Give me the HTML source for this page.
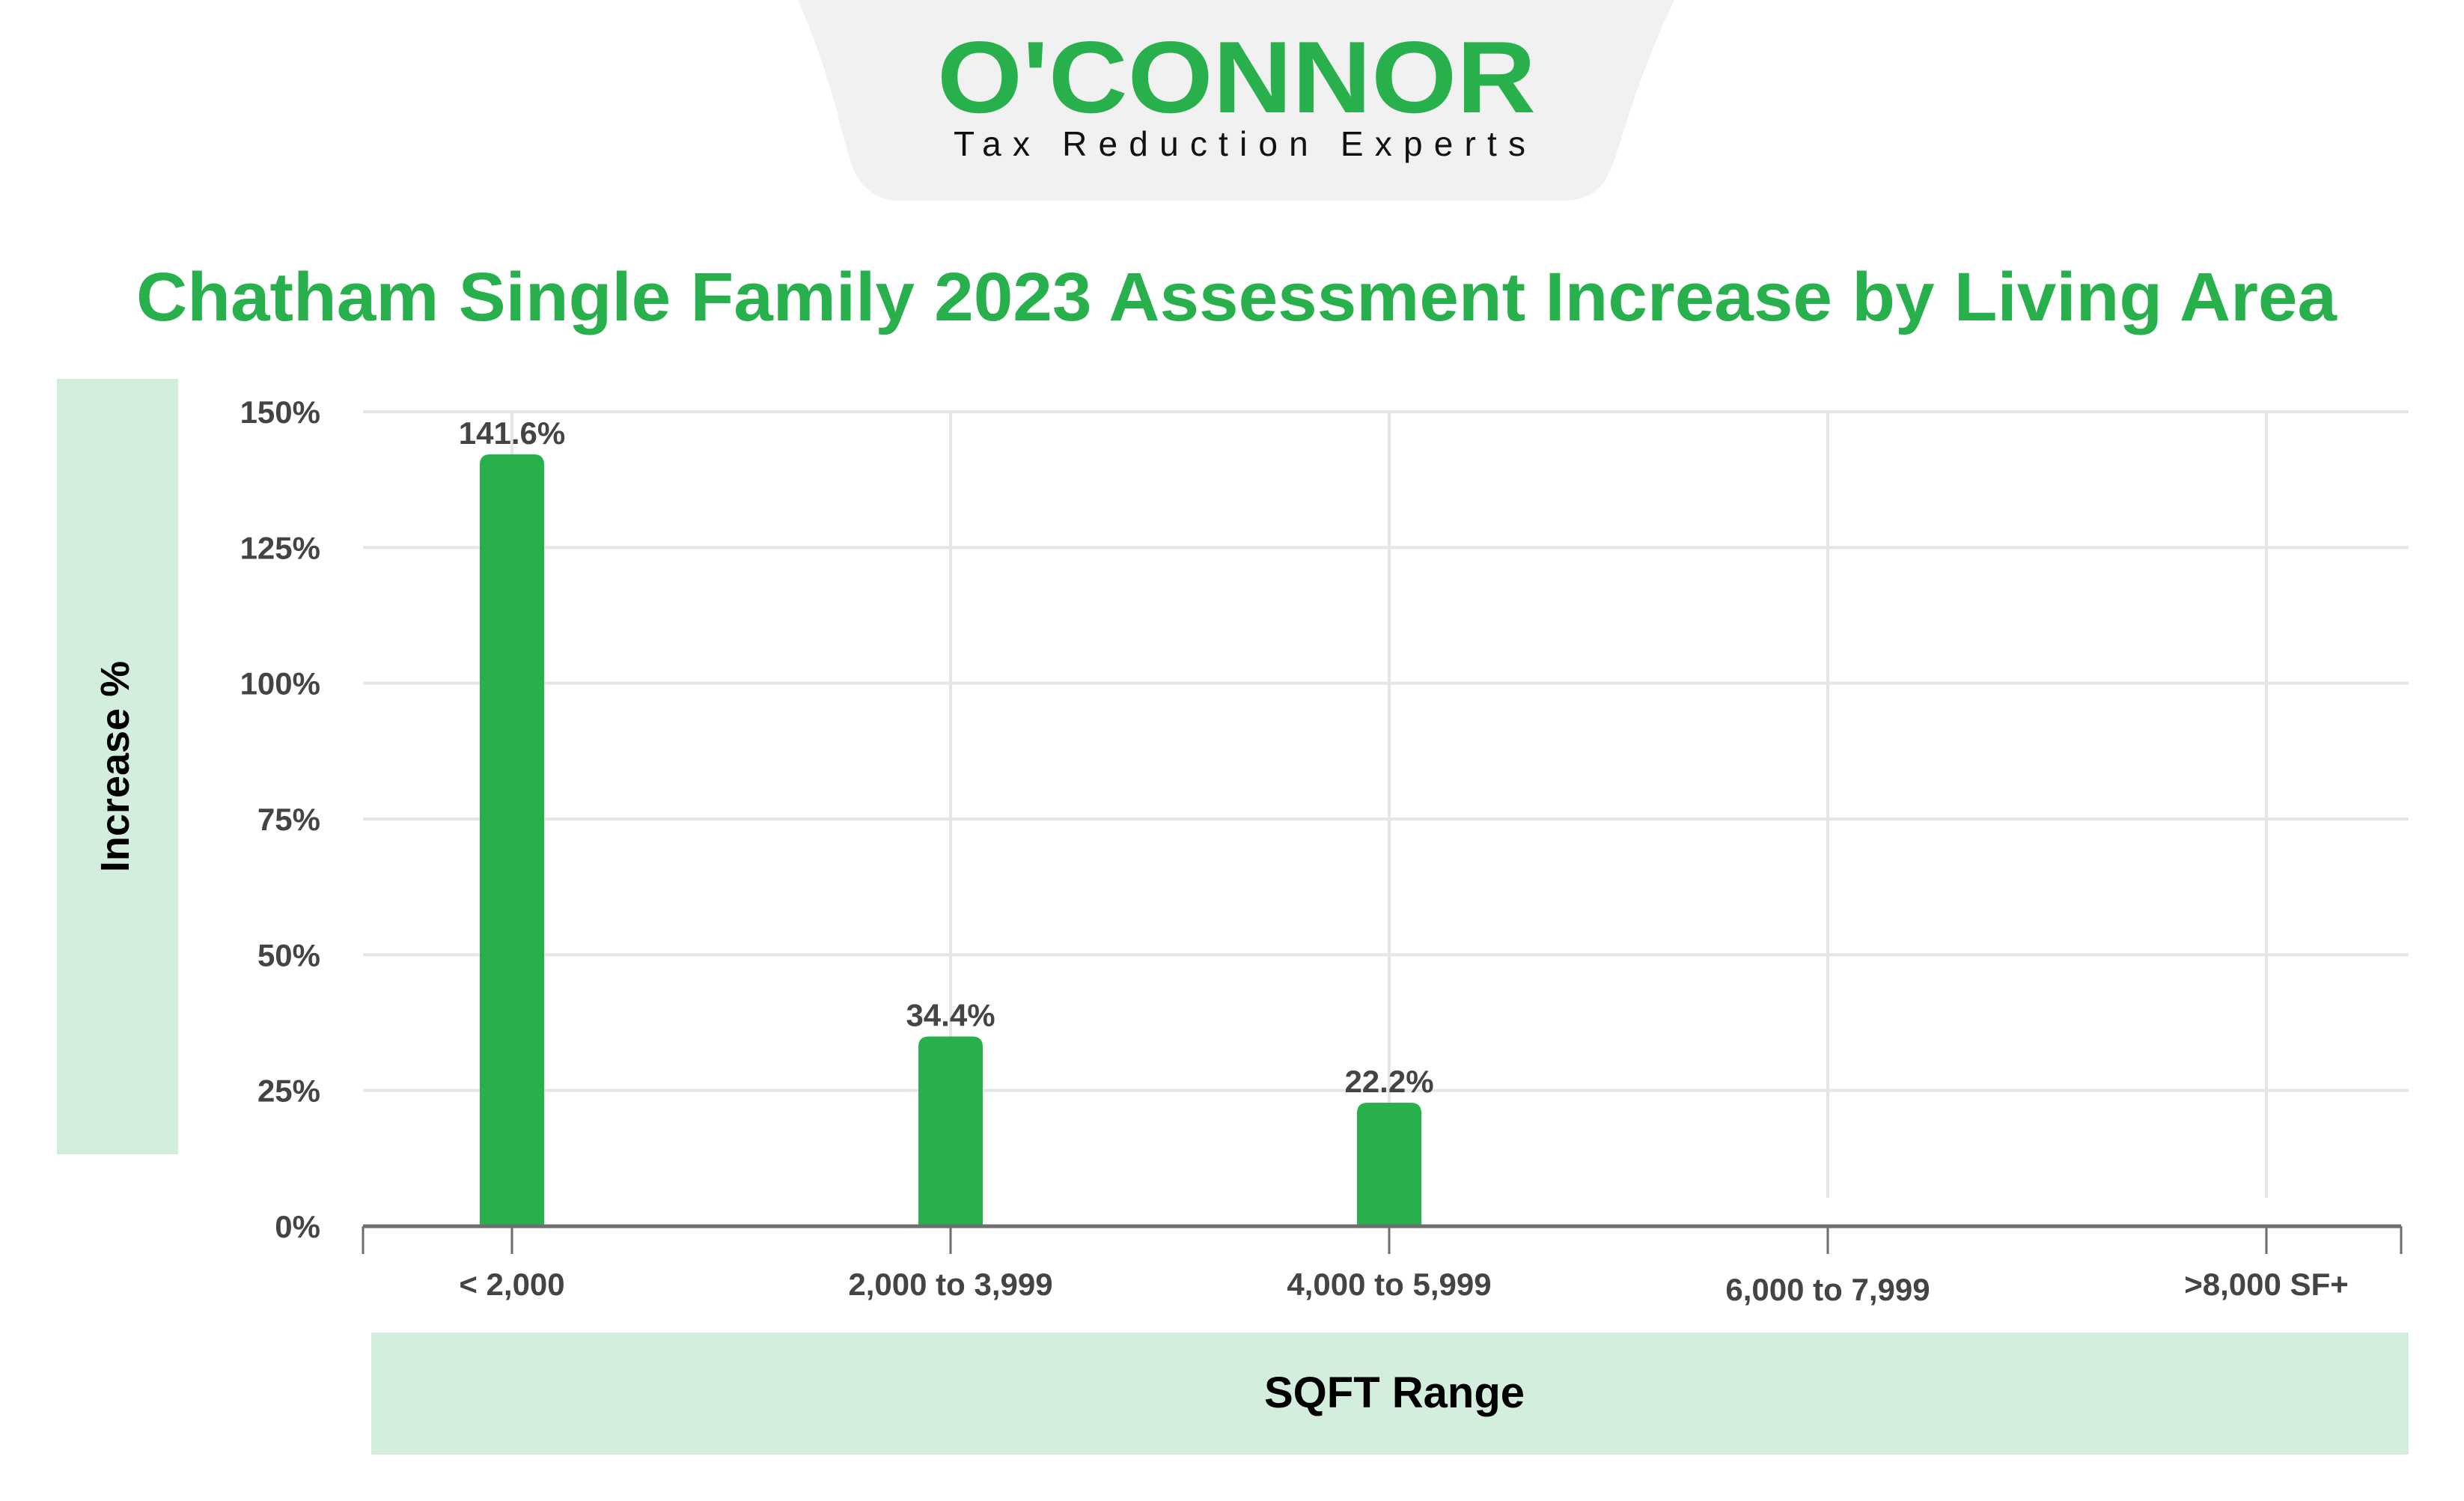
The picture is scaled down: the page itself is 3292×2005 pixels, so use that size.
<!DOCTYPE html>
<html><head><meta charset="utf-8"><style>
html,body{margin:0;padding:0;background:#fff;}
body{width:3292px;height:2000px;position:relative;overflow:hidden;font-family:"Liberation Sans",sans-serif;}
</style></head><body>
<svg width="3292" height="2000" viewBox="0 0 3292 2000" xmlns="http://www.w3.org/2000/svg">
<path d="M1066,0 L2237,0 C2180,120 2165,200 2150,230 C2140,255 2120,268 2090,268 L1200,268 C1170,268 1150,250 1140,225 C1125,190 1115,110 1066,0 Z" fill="#f1f1f1"/>
<text x="1652" y="150" text-anchor="middle" font-size="136" font-weight="bold" fill="#27b04c" textLength="800" lengthAdjust="spacingAndGlyphs">O'CONNOR</text>
<text x="1656" y="208" text-anchor="middle" font-size="46" fill="#111" textLength="764" lengthAdjust="spacing">Tax Reduction Experts</text>
<text x="1652" y="428" text-anchor="middle" font-size="92" font-weight="bold" fill="#27b04c" textLength="2940" lengthAdjust="spacingAndGlyphs">Chatham Single Family 2023 Assessment Increase by Living Area</text>
<rect x="76" y="506" width="162" height="1036" fill="#d4eedd"/>
<text transform="translate(172,1024) rotate(-90)" text-anchor="middle" font-size="54" font-weight="bold" fill="#000">Increase %</text>
<rect x="496" y="1780" width="2722" height="163" fill="#d4eedd"/>
<text x="1863" y="1880" text-anchor="middle" font-size="58" font-weight="bold" fill="#000">SQFT Range</text>
<g id="grid"></g><g id="bars"></g><g id="axes"></g>
</svg>
<script>
const categories = ["< 2,000","2,000 to 3,999","4,000 to 5,999","6,000 to 7,999",">8,000 SF+"];
const values = [141.6, 34.4, 22.2, null, null];
const valueLabels = ["141.6%","34.4%","22.2%","",""];
const yTicks = [0,25,50,75,100,125,150];
const yTickLabels = ["0%","25%","50%","75%","100%","125%","150%"];

const NS="http://www.w3.org/2000/svg";
const x0=485,x1=3218,yBase=1638,yTop=550;
function yScale(v){return yBase-(v/150)*(yBase-yTop);}
function xScale(i){return 684+i*586;}
function mk(tag,attrs,parent,text){const e=document.createElementNS(NS,tag);for(const k in attrs)e.setAttribute(k,attrs[k]);if(text!==undefined)e.textContent=text;parent.appendChild(e);return e;}
const grid=document.getElementById('grid'),bars=document.getElementById('bars'),axes=document.getElementById('axes');
yTicks.forEach((t,i)=>{
  if(t>0){const l=mk('line',{x1:x0,x2:x1,y1:yScale(t),y2:yScale(t),stroke:'#e6e6e6','stroke-width':4},grid);
  
  }
  const tx=mk('text',{x:428,y:yScale(t)+15,'text-anchor':'end','font-size':42,'font-weight':'bold',fill:'#444'},axes,yTickLabels[i]);
  
  
});
categories.forEach((c,i)=>{
  const cx=xScale(i);
  const g=mk('line',{x1:cx,x2:cx,y1:yTop,y2:1600,stroke:'#e6e6e6','stroke-width':4},grid);
  
  
  if(values[i]!=null){
    const top=yScale(values[i])-4,w=86,r=14;
    const p=mk('path',{d:`M${cx-w/2},${yBase} L${cx-w/2},${top+r} Q${cx-w/2},${top} ${cx-w/2+r},${top} L${cx+w/2-r},${top} Q${cx+w/2},${top} ${cx+w/2},${top+r} L${cx+w/2},${yBase} Z`,fill:'#27b04c'},bars);
    
    
    const vl=mk('text',{x:cx,y:top-14,'text-anchor':'middle','font-size':42,'font-weight':'bold',fill:'#444'},bars,valueLabels[i]);
    
    
  }
  const tk=mk('line',{x1:cx,x2:cx,y1:yBase,y2:1675,stroke:'#6e6e6e','stroke-width':3},axes);
  
  
  const lb=mk('text',{x:cx,y:i==3?1737:1730,'text-anchor':'middle','font-size':42,'font-weight':'bold',fill:'#444'},axes,c);
  
  
});
const ax=mk('line',{x1:x0,x2:3208,y1:yBase,y2:yBase,stroke:'#6e6e6e','stroke-width':5},axes);


[x0,3208].forEach(x=>{const e=mk('line',{x1:x,x2:x,y1:yBase,y2:1675,stroke:'#6e6e6e','stroke-width':3},axes);

});
</script>
</body></html>
